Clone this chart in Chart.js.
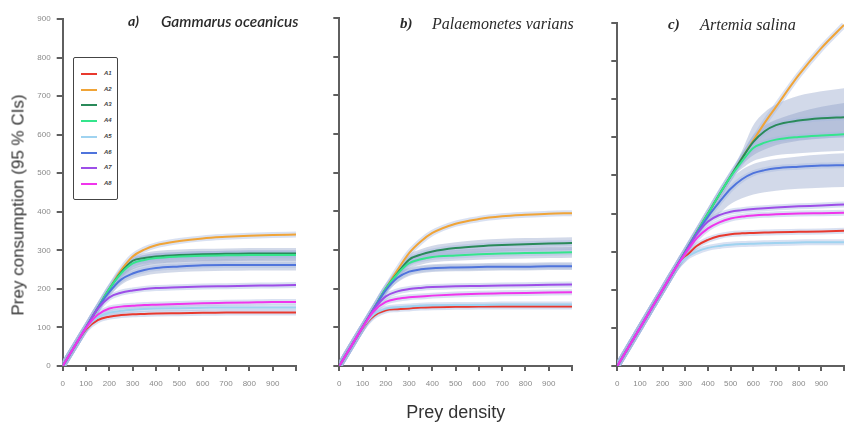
<!DOCTYPE html>
<html><head><meta charset="utf-8">
<script src="https://cdn.jsdelivr.net/npm/chart.js@4.4.1/dist/chart.umd.min.js"></script>
<style>
html,body{margin:0;padding:0;background:#fff;width:852px;height:427px;overflow:hidden;position:relative}
canvas{position:absolute;left:0;top:0}
.pt{position:absolute;white-space:nowrap;color:#2a2a2a;font-style:italic;line-height:1}
#ytitle{position:absolute;left:18px;top:205px;transform:translate(-50%,-50%) rotate(-90deg);white-space:nowrap;font:17px 'Liberation Sans',sans-serif;color:#333;line-height:1}
#legend{position:absolute;left:73px;top:57px;width:43px;height:141px;border:1.5px solid #444;border-radius:2px;background:#fff}
.lg{position:absolute;left:0;width:45px;height:10px}
.lg i{position:absolute;left:7px;top:4px;width:16px;height:2px}
.lg b{position:absolute;left:30px;top:1px;font:italic 700 6px 'Liberation Sans',sans-serif;color:#444}
</style></head><body>
<canvas id="cA" width="852" height="427" style="width:852px;height:427px"></canvas>
<canvas id="cB" width="852" height="427" style="width:852px;height:427px"></canvas>
<canvas id="cC" width="852" height="427" style="width:852px;height:427px"></canvas>
<div id="legend"></div>
<div id="ytitle">Prey consumption (95 % CIs)</div>
<div class="pt" style="left:128px;top:12px;font:italic 700 14px Lato,sans-serif">a)</div>
<div class="pt" style="left:161px;top:12px;font:italic 600 15.4px Lato,sans-serif">Gammarus oceanicus</div>
<div class="pt" style="left:400px;top:15px;font:italic 700 15px 'Liberation Serif',serif">b)</div>
<div class="pt" style="left:432px;top:15px;font:italic 400 16px 'Liberation Serif',serif">Palaemonetes varians</div>
<div class="pt" style="left:668px;top:16px;font:italic 700 15px 'Liberation Serif',serif">c)</div>
<div class="pt" style="left:700px;top:16px;font:italic 400 16.2px 'Liberation Serif',serif">Artemia salina</div>
<script>
// ---------- data ----------
const seriesNames = ['A1','A2','A3','A4','A5','A6','A7','A8'];
const seriesColors = ['#e8392e','#f0a437','#2a8a5a','#34e58c','#9fd3f0','#4f74dc','#9d4ee8','#f035ec'];
const xTicks = [0,100,200,300,400,500,600,700,800,900];
const yTicks = [0,100,200,300,400,500,600,700,800,900];

// a) Gammarus oceanicus
const densityGam = [0,50,100,150,200,250,300,350,400,500,600,700,800,900,1000];
const gamA1 = [0,50,95,119,128,132,134,135,136,137,138,139,139,139,139];
const gamA2 = [0,50,100,150,200,248,284,302,313,324,331,335,338,340,341];
const gamA3 = [0,50,100,150,200,243,273,280,284,288,290,291,292,292,292];
const gamA4 = [0,50,100,150,200,240,266,275,280,284,286,287,288,288,288];
const gamA5 = [0,50,98,126,138,143,146,148,149,150,151,152,152,152,152];
const gamA6 = [0,50,100,150,192,224,240,249,254,258,261,262,262,262,262];
const gamA7 = [0,50,100,148,178,190,196,200,202,204,206,207,208,209,210];
const gamA8 = [0,50,99,133,149,154,156,158,159,161,163,164,165,166,166];
const gamA3Lo = [0,50,100,150,200,232,255,264,268,272,274,275,276,277,277];
const gamA3Hi = [0,50,100,150,200,248,282,293,298,302,304,305,306,306,306];
const gamA4Lo = [0,50,100,150,198,228,250,260,265,269,271,272,273,273,273];
const gamA4Hi = [0,50,100,150,200,246,278,288,293,296,298,299,300,300,300];
const gamA6Lo = [0,50,100,145,182,210,226,234,239,244,246,247,248,248,248];
const gamA6Hi = [0,50,100,150,200,236,254,263,268,272,275,276,277,277,277];

// b) Palaemonetes varians
const densityPal = [0,50,100,150,200,250,300,350,400,500,600,700,800,900,1000];
const palA1 = [0,50,98,130,144,147,149,151,152,153,154,154,154,154,154];
const palA2 = [0,50,100,150,200,248,292,322,344,368,380,387,391,394,395];
const palA3 = [0,50,100,150,200,240,275,288,296,305,310,313,315,317,318];
const palA4 = [0,50,100,150,200,238,266,276,282,286,289,291,292,293,294];
const palA5 = [0,50,99,134,148,152,154,156,157,158,158,159,159,159,159];
const palA6 = [0,50,100,150,196,228,244,250,253,255,256,257,257,258,258];
const palA7 = [0,50,100,148,180,193,199,202,204,206,207,208,209,210,211];
const palA8 = [0,50,100,143,166,174,178,180,182,185,187,188,189,190,191];
const palA3Lo = [0,50,100,150,200,232,260,272,280,288,293,296,298,299,300];
const palA3Hi = [0,50,100,150,200,246,288,302,311,320,326,329,331,332,333];
const palA4Lo = [0,50,100,150,198,228,252,262,268,272,275,277,278,279,280];
const palA4Hi = [0,50,100,150,200,244,280,290,296,300,303,305,306,307,308];
const palA6Lo = [0,50,100,148,188,216,233,240,243,245,246,247,247,248,248];
const palA6Hi = [0,50,100,150,200,238,254,260,263,265,266,267,267,268,268];

// c) Artemia salina
const densityArt = [0,100,200,250,300,350,400,450,500,550,600,650,700,800,900,1000];
const artA1 = [0,100,200,250,285,315,331,341,346,348,349,350,351,352,353,355];
const artA2 = [0,100,200,250,300,350,400,450,498,545,592,638,680,763,834,895];
const artA3 = [0,100,200,250,300,350,400,450,498,545,588,616,632,644,650,653];
const artA4 = [0,100,200,250,300,350,400,450,497,537,572,586,594,601,605,608];
const artA5 = [0,100,200,250,283,300,310,315,318,320,321,322,323,324,325,325];
const artA6 = [0,100,200,250,300,348,392,430,465,490,506,514,519,523,526,527];
const artA7 = [0,100,200,250,298,345,379,396,405,409,412,414,416,419,421,424];
const artA8 = [0,100,200,250,295,335,361,377,387,392,395,397,398,400,401,402];
const artA3Lo = [0,100,200,250,300,350,400,450,495,528,553,568,579,591,597,600];
const artA3Hi = [0,100,200,250,300,350,400,452,505,565,632,666,686,709,721,729];
const artA4Lo = [0,100,200,250,300,350,400,448,490,518,538,547,553,558,562,565];
const artA4Hi = [0,100,200,250,300,350,400,451,503,556,606,631,646,666,680,690];
const artA6Lo = [0,100,200,250,300,343,374,400,425,440,450,456,460,465,468,470];
const artA6Hi = [0,100,200,250,300,350,402,446,490,515,530,538,543,550,555,558];

// ---------- legend ----------
const lg = document.getElementById('legend');
seriesNames.forEach((n,i)=>{
  const d=document.createElement('div');d.className='lg';d.style.top=(11+i*15.7)+'px';
  d.innerHTML='<i style="background:'+seriesColors[i]+'"></i><b>'+n+'</b>';lg.appendChild(d);
});

// ---------- charts ----------
function pts(xs, ys){ return xs.map((x,i)=>({x:x,y:ys[i]})); }
function makeDatasets(xs, series, bands){
  const ds=[];
  bands.forEach(b=>{
    const lo=ds.length;
    ds.push({data:pts(xs,b[1]),borderWidth:0,pointRadius:0,fill:false,cubicInterpolationMode:'monotone',order:300});
    ds.push({data:pts(xs,b[2]),borderWidth:0,pointRadius:0,fill:{target:lo},backgroundColor:'rgba(138,155,198,0.38)',cubicInterpolationMode:'monotone',order:300});
  });
  series.forEach((s,i)=>{
    ds.push({data:pts(xs,s),borderColor:'rgba(165,184,224,0.42)',borderWidth:6,pointRadius:0,fill:false,cubicInterpolationMode:'monotone',order:200});
  });
  series.forEach((s,i)=>{
    ds.push({label:seriesNames[i],data:pts(xs,s),borderColor:seriesColors[i],borderWidth:2,pointRadius:0,fill:false,cubicInterpolationMode:'monotone',order:9-i});
  });
  return ds;
}
const axisCol='#5f5f5f';
function makeChart(id, xs, series, bands, pad, showYLabels, xTitle){
  new Chart(document.getElementById(id),{
    type:'line',
    data:{datasets:makeDatasets(xs,series,bands)},
    options:{
      responsive:false,animation:false,events:[],
      layout:{padding:pad},
      plugins:{legend:{display:false},tooltip:{enabled:false}},
      scales:{
        x:{type:'linear',min:0,max:1000,
          afterBuildTicks:(sc)=>{sc.ticks=xTicks.concat([1000]).map(v=>({value:v}));},
          ticks:{font:{family:'Liberation Sans',size:8},color:'#8a8a8a',padding:8,maxRotation:0,autoSkip:false,
            callback:(v)=> xTicks.includes(v)? String(v):''},
          grid:{drawOnChartArea:false,drawTicks:true,tickLength:5,color:axisCol,lineWidth:2},
          border:{display:true,color:axisCol,width:2},
          title:{display:!!xTitle,text:xTitle||'',font:{family:'Liberation Sans',size:18},color:'#333',padding:{top:0,bottom:3}},
          afterFit:(sc)=>{sc.height=61;}
        },
        y:{type:'linear',min:0,max:900,
          afterBuildTicks:(sc)=>{sc.ticks=yTicks.map(v=>({value:v}));},
          ticks:{font:{family:'Liberation Sans',size:8},color:'#8a8a8a',padding:6,autoSkip:false,
            callback:(v)=> showYLabels? String(v):''},
          grid:{drawOnChartArea:false,drawTicks:true,tickLength:6,color:axisCol,lineWidth:2},
          border:{display:true,color:axisCol,width:2},
          afterFit:(sc)=>{sc.width=62.7;}
        }
      }
    }
  });
}
makeChart('cA', densityGam, [gamA1,gamA2,gamA3,gamA4,gamA5,gamA6,gamA7,gamA8],
  [[2,gamA3Lo,gamA3Hi],[3,gamA4Lo,gamA4Hi],[5,gamA6Lo,gamA6Hi]],
  {left:0,right:556,top:19,bottom:0}, true, '');
makeChart('cB', densityPal, [palA1,palA2,palA3,palA4,palA5,palA6,palA7,palA8],
  [[2,palA3Lo,palA3Hi],[3,palA4Lo,palA4Hi],[5,palA6Lo,palA6Hi]],
  {left:276.6,right:280,top:18,bottom:0}, false, 'Prey density');
makeChart('cC', densityArt, [artA1,artA2,artA3,artA4,artA5,artA6,artA7,artA8],
  [[2,artA3Lo,artA3Hi],[3,artA4Lo,artA4Hi],[5,artA6Lo,artA6Hi]],
  {left:554.6,right:1.5,top:23,bottom:0}, false, '');
</script>
</body></html>
